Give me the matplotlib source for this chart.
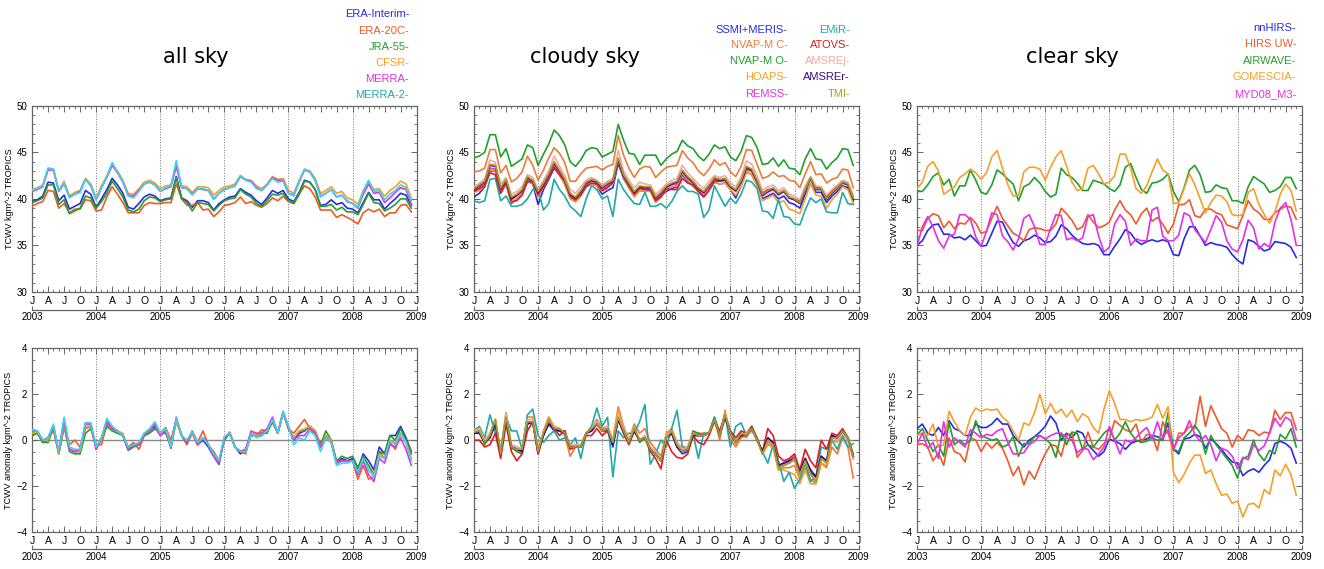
import numpy as np
import matplotlib.pyplot as plt
from matplotlib.ticker import MultipleLocator

months = np.arange(72)
month_labels = ['J', 'A', 'J', 'O'] * 6 + ['J']
year_labels = ['2003', '2004', '2005', '2006', '2007', '2008', '2009']

# ---------------- all sky, TCWV ----------------
era_interim = [39.7, 39.9, 40.3, 41.8, 41.7, 39.8, 40.4, 38.9, 39.2, 39.5, 40.9, 40.5,
               39.1, 40.0, 41.0, 42.2, 41.5, 40.6, 39.1, 38.9, 39.5, 40.2, 40.5, 40.3,
               39.8, 40.0, 40.1, 42.4, 40.1, 39.8, 39.1, 39.8, 39.8, 39.6, 38.8, 39.5,
               39.9, 40.2, 40.3, 41.1, 40.7, 40.4, 39.8, 39.4, 40.1, 40.9, 40.6, 40.9,
               40.0, 39.7, 40.7, 42.0, 41.8, 41.0, 39.3, 39.4, 39.9, 39.4, 39.6, 39.0,
               38.9, 38.5, 39.6, 40.7, 39.9, 39.9, 38.9, 39.5, 40.0, 40.6, 40.4, 39.3]
era_20c = [39.2, 39.5, 39.7, 40.9, 40.8, 39.0, 39.5, 38.5, 38.9, 38.9, 39.9, 39.8,
           38.7, 38.8, 40.2, 41.3, 40.5, 39.6, 38.5, 38.5, 38.5, 39.3, 39.6, 39.5,
           39.5, 39.6, 39.6, 41.6, 40.0, 39.3, 39.3, 39.6, 38.8, 38.9, 38.1, 38.6,
           39.3, 39.4, 39.6, 40.2, 39.5, 39.7, 39.3, 39.1, 39.5, 40.1, 39.8, 40.3,
           39.7, 39.5, 40.5, 41.4, 41.1, 40.2, 38.8, 38.8, 38.8, 38.0, 38.3, 38.0,
           37.7, 37.3, 38.5, 38.9, 38.6, 38.9, 38.1, 38.5, 38.5, 39.3, 39.4, 38.6]
jra_55 = [39.6, 39.8, 40.1, 41.5, 41.5, 39.4, 39.9, 38.4, 38.7, 39.0, 40.3, 40.1,
          39.0, 39.7, 40.6, 41.9, 41.1, 40.2, 38.8, 38.6, 38.9, 39.8, 40.2, 40.1,
          39.7, 39.9, 40.0, 42.3, 40.0, 39.6, 38.7, 39.6, 39.5, 39.4, 38.7, 39.3,
          39.8, 40.0, 40.1, 41.0, 40.5, 40.2, 39.5, 39.2, 39.8, 40.5, 40.4, 40.6,
          39.8, 39.5, 40.5, 41.9, 41.8, 41.0, 39.2, 39.2, 39.4, 38.8, 39.1, 38.6,
          38.6, 38.3, 39.4, 40.6, 39.6, 39.5, 38.7, 39.0, 39.4, 40.0, 40.0, 39.0]
cfsr = [41.0, 41.2, 41.5, 43.3, 43.2, 40.9, 41.9, 40.3, 40.7, 40.9, 42.2, 41.6,
        40.1, 41.4, 42.5, 43.7, 43.0, 42.0, 40.6, 40.5, 41.1, 41.8, 42.0, 41.7,
        41.1, 41.4, 41.5, 43.6, 41.4, 41.3, 40.7, 41.3, 41.3, 41.2, 40.4, 40.9,
        41.3, 41.4, 41.6, 42.5, 42.1, 42.0, 41.4, 41.1, 41.6, 42.4, 42.1, 42.2,
        40.9, 40.6, 42.0, 43.2, 43.0, 42.2, 40.6, 40.9, 41.3, 40.6, 40.8, 40.1,
        39.9, 39.4, 40.9, 41.9, 41.0, 41.1, 40.3, 40.9, 41.3, 41.9, 41.6, 40.1]
merra = [40.8, 41.0, 41.3, 43.1, 43.1, 40.8, 41.6, 40.2, 40.5, 40.8, 42.1, 41.4,
         39.9, 41.2, 42.3, 43.6, 42.8, 41.8, 40.4, 40.3, 40.9, 41.6, 41.8, 41.5,
         40.8, 41.1, 41.3, 43.5, 41.2, 41.1, 40.5, 41.1, 41.0, 40.9, 40.0, 40.6,
         41.0, 41.2, 41.4, 42.4, 42.0, 41.9, 41.2, 40.9, 41.5, 42.3, 42.0, 42.0,
         40.6, 40.4, 41.8, 43.1, 42.9, 42.0, 40.3, 40.6, 41.0, 40.2, 40.4, 39.7,
         39.5, 39.0, 40.5, 41.6, 40.6, 40.7, 39.6, 40.1, 40.7, 41.2, 41.0, 39.4]
merra_2 = [40.9, 41.1, 41.4, 43.3, 43.2, 40.9, 41.7, 40.1, 40.5, 40.7, 42.1, 41.5,
           39.9, 41.2, 42.4, 43.9, 42.8, 41.8, 40.3, 40.1, 40.8, 41.6, 41.8, 41.5,
           40.8, 41.2, 41.4, 44.1, 41.3, 41.1, 40.4, 41.1, 41.1, 40.9, 39.9, 40.6,
           41.1, 41.2, 41.4, 42.5, 42.0, 41.8, 41.1, 40.9, 41.5, 42.2, 41.8, 41.9,
           40.6, 40.3, 41.9, 43.2, 42.9, 42.0, 40.2, 40.6, 41.0, 40.2, 40.4, 39.8,
           39.5, 39.1, 40.8, 42.0, 40.8, 40.9, 39.9, 40.5, 40.9, 41.5, 41.2, 39.8]

# ---------------- all sky, anomaly ----------------
era_interim_a = [0.3, 0.35, 0.0, 0.1, 0.6, -0.5, 0.9, -0.4, -0.5, -0.5, 0.75, 0.7,
                 -0.4, 0.1, 0.8, 0.5, 0.4, 0.2, -0.4, -0.2, -0.2, 0.2, 0.4, 0.6,
                 0.2, 0.4, -0.35, 0.9, 0.2, -0.1, 0.3, -0.2, 0.0, -0.3, -0.7, -1.05,
                 0.1, 0.3, -0.3, -0.6, -0.4, 0.3, 0.2, 0.2, 0.4, 0.8, 0.3, 1.2,
                 0.6, 0.0, 0.3, 0.4, 0.6, 0.4, -0.3, 0.2, 0.0, -1.0, -0.8, -0.9,
                 -0.8, -1.25, -0.6, -0.9, -1.3, -0.3, -0.6, 0.2, 0.2, 0.6, 0.1, -0.5]
era_20c_a = [0.2, 0.3, -0.1, 0.0, 0.5, -0.6, 0.6, -0.2, 0.0, -0.3, 0.5, 0.6,
             -0.2, -0.2, 0.7, 0.5, 0.4, 0.2, -0.3, -0.1, -0.4, 0.2, 0.4, 0.5,
             0.3, 0.55, 0.0, 0.9, 0.2, -0.2, 0.4, -0.1, 0.4, -0.2, -0.5, -0.9,
             0.0, 0.35, -0.3, -0.5, -0.6, 0.3, 0.2, 0.45, 0.4, 0.9, 0.3, 1.2,
             0.5, 0.3, 0.6, 0.9, 0.5, 0.2, -0.1, 0.1, -0.1, -1.0, -0.9, -0.9,
             -0.9, -1.7, -1.1, -1.7, -1.6, -0.5, -0.8, -0.1, -0.4, 0.3, 0.0, -0.5]
jra_55_a = [0.2, 0.3, -0.1, -0.1, 0.5, -0.6, 0.6, -0.5, -0.6, -0.6, 0.3, 0.5,
            -0.3, 0.0, 0.6, 0.4, 0.3, 0.2, -0.45, -0.3, -0.2, 0.2, 0.3, 0.5,
            0.3, 0.3, -0.2, 0.8, 0.2, -0.15, 0.3, -0.2, 0.1, -0.2, -0.6, -0.9,
            0.0, 0.3, -0.3, -0.5, -0.4, 0.2, 0.2, 0.3, 0.3, 0.8, 0.3, 1.2,
            0.5, 0.1, 0.4, 0.4, 0.6, 0.4, -0.2, 0.4, 0.0, -0.9, -0.7, -0.8,
            -0.7, -1.2, -0.7, -1.1, -1.5, -0.5, -0.6, 0.2, 0.0, 0.5, 0.0, -0.6]
cfsr_a = [0.3, 0.35, 0.0, 0.0, 0.6, -0.6, 0.7, -0.4, -0.5, -0.5, 0.6, 0.6,
          -0.3, 0.0, 0.8, 0.6, 0.4, 0.3, -0.3, -0.2, -0.2, 0.3, 0.4, 0.7,
          0.2, 0.5, -0.2, 0.8, 0.2, -0.1, 0.3, -0.2, 0.1, -0.2, -0.6, -0.9,
          0.1, 0.3, -0.3, -0.5, -0.4, 0.3, 0.2, 0.3, 0.4, 0.9, 0.3, 1.2,
          0.6, 0.1, 0.4, 0.5, 0.6, 0.4, -0.3, 0.2, 0.0, -1.0, -0.9, -0.9,
          -0.9, -1.4, -0.8, -1.3, -1.5, -0.6, -0.8, 0.0, -0.1, 0.3, -0.1, -0.8]
merra_a = [0.4, 0.4, 0.0, 0.1, 0.6, -0.5, 0.8, -0.4, -0.5, -0.4, 0.7, 0.7,
           -0.4, 0.1, 0.8, 0.5, 0.4, 0.2, -0.4, -0.2, -0.2, 0.3, 0.4, 0.7,
           0.2, 0.4, -0.3, 1.0, 0.2, -0.1, 0.4, -0.2, 0.1, -0.2, -0.7, -1.0,
           0.1, 0.3, -0.3, -0.5, -0.4, 0.4, 0.3, 0.3, 0.5, 1.0, 0.3, 1.25,
           0.5, 0.0, 0.2, 0.2, 0.5, 0.3, -0.3, 0.1, -0.1, -1.0, -0.9, -0.9,
           -0.9, -1.5, -0.9, -1.5, -1.8, -0.8, -1.0, -0.2, -0.3, 0.1, -0.4, -1.1]
merra_2_a = [0.45, 0.4, 0.0, 0.1, 0.7, -0.5, 1.0, -0.3, -0.4, -0.4, 0.75, 0.75,
             -0.3, 0.1, 0.95, 0.6, 0.4, 0.2, -0.3, -0.2, -0.1, 0.3, 0.5, 0.8,
             0.3, 0.5, -0.3, 0.95, 0.2, 0.0, 0.4, -0.1, 0.1, -0.2, -0.6, -0.9,
             0.15, 0.3, -0.3, -0.5, -0.5, 0.3, 0.1, 0.2, 0.4, 0.9, 0.3, 1.25,
             0.6, -0.2, 0.1, 0.0, 0.4, 0.2, -0.5, 0.1, -0.1, -1.1, -1.0, -1.0,
             -0.9, -1.4, -0.8, -1.3, -1.6, -0.7, -0.8, 0.0, -0.2, 0.3, -0.1, -0.9]

# ---------------- cloudy sky, TCWV ----------------
ssmi_meris = [40.2, 40.6, 41.3, 43.0, 43.0, 40.6, 41.6, 39.5, 40.0, 40.5, 41.9, 41.6,
              39.4, 41.0, 42.1, 43.3, 42.6, 41.6, 40.1, 39.7, 40.4, 41.3, 41.6, 41.4,
              40.5, 40.9, 41.2, 43.8, 42.2, 41.2, 40.3, 40.9, 40.8, 40.9, 39.8, 40.3,
              40.8, 41.1, 41.3, 42.6, 41.9, 41.4, 40.8, 40.3, 41.0, 41.8, 41.6, 41.7,
              41.0, 40.1, 41.4, 42.9, 42.6, 41.5, 40.0, 40.3, 40.6, 40.0, 40.3, 39.6,
              39.4, 39.0, 40.5, 41.6, 40.7, 40.7, 39.6, 40.3, 40.8, 41.4, 41.2, 39.8]
nvapm_c = [42.9, 43.0, 43.3, 45.3, 45.3, 42.8, 43.6, 41.8, 42.2, 42.9, 44.6, 43.6,
           42.0, 43.1, 44.4, 45.5, 44.9, 43.9, 41.9, 41.9, 42.7, 43.3, 43.4, 43.5,
           43.1, 43.5, 43.7, 46.8, 44.7, 43.3, 42.3, 43.2, 43.5, 43.4, 42.3, 42.9,
           43.4, 43.5, 43.6, 45.2, 44.4, 43.9, 43.0, 42.5, 43.2, 44.2, 43.6, 43.9,
           42.9, 42.4, 43.5, 45.3, 45.2, 43.7, 42.2, 42.4, 42.9, 42.4, 42.5, 42.0,
           41.9, 41.2, 42.7, 44.0, 42.6, 42.7, 41.7, 42.1, 42.3, 43.2, 43.1, 41.2]
nvapm_o = [44.4, 44.6, 45.0, 46.9, 46.9, 44.5, 45.4, 43.5, 43.9, 44.3, 45.8, 45.5,
           43.6, 44.8, 45.9, 47.4, 46.8, 45.8, 44.0, 43.5, 44.2, 45.2, 45.5, 45.4,
           44.5, 44.8, 45.1, 48.0, 46.3, 44.9, 44.8, 43.7, 44.7, 44.7, 44.7, 43.6,
           44.3, 44.8, 45.1, 46.3, 45.7, 45.4, 44.6, 44.1, 44.8, 45.8, 45.4, 45.6,
           44.5, 44.1, 45.1, 46.8, 46.6, 45.5, 43.7, 43.8, 44.4, 43.5, 44.2, 43.3,
           43.2, 42.6, 44.3, 45.4, 44.3, 44.2, 43.2, 43.9, 44.4, 45.4, 45.3, 43.6]
hoaps = [40.7, 40.9, 41.4, 43.1, 43.0, 40.6, 41.7, 39.6, 40.0, 40.5, 42.0, 41.6,
         40.2, 41.3, 42.3, 43.5, 42.6, 41.6, 40.0, 39.7, 40.4, 41.4, 41.6, 41.4,
         40.8, 41.3, 41.6, 44.1, 42.3, 41.2, 40.2, 40.9, 40.8, 40.8, 39.6, 40.2,
         41.0, 41.3, 41.4, 42.8, 42.0, 41.5, 40.7, 40.2, 41.0, 41.8, 41.6, 41.7,
         41.0, 40.4, 41.4, 42.9, 42.6, 41.4, 39.8, 40.1, 40.4, 39.6, 39.8, 38.9,
         38.7, 38.4, 40.0, 41.7, 40.4, 40.3, 39.0, 39.9, 40.5, 41.3, 41.0, 39.5]
remss = [40.9, 41.2, 41.6, 43.3, 43.2, 40.9, 41.9, 39.9, 40.3, 40.8, 42.2, 41.8,
         40.4, 41.4, 42.4, 43.7, 42.9, 41.9, 40.4, 40.0, 40.7, 41.6, 41.9, 41.7,
         41.0, 41.4, 41.7, 44.3, 42.4, 41.5, 40.6, 41.2, 41.1, 41.1, 40.0, 40.5,
         41.2, 41.5, 41.6, 42.9, 42.2, 41.7, 41.0, 40.6, 41.3, 42.1, 41.9, 42.0,
         41.3, 40.8, 41.8, 43.2, 43.0, 41.8, 40.3, 40.7, 41.0, 40.4, 40.8, 40.1,
         39.9, 39.6, 40.9, 42.2, 41.0, 41.1, 40.0, 40.7, 41.2, 41.8, 41.6, 40.1]
emir = [39.8, 39.6, 39.8, 42.1, 42.2, 39.8, 40.3, 39.2, 39.2, 39.4, 40.0, 41.0,
        41.0, 38.8, 39.5, 42.1, 41.0, 40.3, 39.2, 38.7, 38.1, 40.0, 41.4, 41.0,
        40.0, 40.3, 38.1, 42.1, 41.0, 40.2, 39.5, 39.4, 40.7, 39.2, 39.2, 39.5,
        39.0, 39.7, 40.8, 41.4, 40.8, 40.8, 40.5, 38.0, 38.8, 41.4, 40.3, 39.2,
        40.1, 39.5, 40.5, 42.0, 41.8, 41.1, 38.7, 38.6, 37.9, 39.9, 38.1, 38.0,
        37.3, 37.2, 38.8, 40.1, 39.6, 40.0, 38.6, 38.5, 38.5, 40.7, 39.5, 39.4]
atovs = [40.8, 41.1, 41.4, 42.8, 42.6, 40.6, 41.8, 39.7, 39.8, 40.4, 41.9, 41.8,
         40.5, 41.3, 42.3, 43.4, 42.6, 41.9, 40.3, 39.9, 40.4, 41.4, 41.7, 41.6,
         40.9, 41.2, 41.8, 44.1, 42.4, 41.4, 40.5, 41.1, 41.0, 41.0, 39.8, 40.2,
         41.1, 41.0, 41.0, 42.2, 41.7, 41.5, 40.8, 40.2, 40.9, 41.9, 41.9, 42.0,
         41.3, 40.9, 41.8, 43.2, 43.0, 41.9, 40.6, 41.0, 41.1, 40.6, 40.9, 40.2,
         40.0, 39.7, 41.0, 42.3, 41.2, 41.2, 40.2, 40.8, 41.3, 41.9, 41.6, 40.1]
amsrej = [41.3, 41.7, 42.1, 44.2, 43.9, 41.6, 42.3, 40.5, 40.8, 41.3, 42.6, 42.3,
          41.0, 42.0, 43.0, 44.6, 43.5, 42.5, 41.0, 40.6, 41.3, 42.0, 42.3, 42.0,
          41.5, 41.9, 42.2, 45.2, 43.0, 42.0, 41.2, 41.8, 41.6, 41.5, 40.5, 41.0,
          41.6, 42.0, 42.2, 43.6, 42.8, 42.2, 41.6, 41.1, 41.9, 42.5, 42.3, 42.5,
          41.7, 41.3, 42.4, 44.1, 43.7, 42.5, 40.9, 41.3, 41.5, 40.9, 41.2, 40.5,
          40.3, 39.9, 41.4, 42.4, 41.4, 41.3, 40.4, 41.0, 41.5, 42.0, 41.8, 40.4]
amsrer = [41.0, 41.4, 41.8, 43.6, 43.5, 41.1, 42.0, 40.0, 40.4, 40.9, 42.3, 41.9,
          40.7, 41.6, 42.6, 43.9, 43.0, 42.0, 40.5, 40.1, 40.8, 41.7, 42.0, 41.8,
          41.2, 41.6, 41.9, 44.2, 42.5, 41.6, 40.7, 41.3, 41.2, 41.2, 40.1, 40.6,
          41.3, 41.6, 41.8, 43.0, 42.3, 41.8, 41.1, 40.7, 41.4, 42.2, 42.0, 42.1,
          41.3, 40.9, 41.9, 43.4, 43.1, 41.9, 40.4, 40.8, 41.1, 40.5, 40.8, 40.1,
          39.9, 39.5, 40.9, 42.2, 41.0, 41.0, 39.9, 40.6, 41.1, 41.7, 41.5, 40.0]
tmi = [41.1, 41.5, 41.9, 43.7, 43.6, 41.2, 42.1, 40.2, 40.5, 41.0, 42.4, 42.0,
       40.8, 41.7, 42.7, 44.0, 43.1, 42.1, 40.6, 40.2, 40.9, 41.8, 42.1, 41.9,
       41.3, 41.7, 42.0, 44.4, 42.6, 41.7, 40.8, 41.4, 41.3, 41.3, 40.2, 40.7,
       41.4, 41.7, 41.9, 43.1, 42.4, 41.9, 41.2, 40.8, 41.5, 42.3, 42.1, 42.2,
       41.4, 41.0, 42.0, 43.5, 43.2, 42.0, 40.5, 40.9, 41.2, 40.6, 40.9, 40.2,
       40.0, 39.6, 41.0, 42.3, 41.1, 41.1, 40.0, 40.7, 41.2, 41.8, 41.6, 40.1]

# ---------------- cloudy sky, anomaly ----------------
ssmi_meris_a = [0.3, 0.35, -0.1, 0.2, 0.7, -0.5, 1.0, -0.3, -0.4, -0.5, 0.8, 0.8,
                -0.6, 0.3, 0.7, 0.4, 0.4, 0.4, -0.3, -0.3, -0.3, 0.3, 0.4, 0.7,
                0.4, 0.4, -0.3, 0.9, 0.3, -0.1, 0.4, 0.0, 0.1, -0.4, -0.6, -0.9,
                0.1, 0.3, -0.3, -0.6, -0.5, 0.2, 0.2, 0.2, 0.3, 0.9, 0.2, 1.0,
                0.3, -0.1, 0.2, 0.2, 0.5, 0.0, -0.5, 0.0, -0.2, -1.1, -1.0, -0.9,
                -0.8, -1.3, -0.8, -1.4, -1.7, -0.8, -0.9, 0.1, 0.1, 0.4, 0.0, -0.7]
nvapm_c_a = [0.5, 0.4, -0.1, 0.3, 0.9, -0.7, 1.2, -0.4, -0.3, -0.5, 1.0, 1.0,
             -0.6, 0.4, 1.0, 0.6, 0.5, 0.2, -0.7, -0.3, -0.3, 0.3, 0.5, 0.9,
             0.5, 0.6, 0.0, 1.45, 0.6, 0.0, 0.7, 0.3, 0.5, -0.1, -0.4, -0.7,
             0.3, 0.5, -0.2, -0.3, -0.3, 0.3, 0.3, 0.3, 0.3, 0.9, 0.0, 1.3,
             0.0, -0.3, 0.1, 0.2, 0.4, 0.1, -0.6, -0.2, -0.3, -1.3, -1.2, -1.2,
             -1.1, -1.7, -1.2, -1.7, -1.9, -1.0, -1.2, -0.3, -0.6, 0.1, -0.3, -1.65]
nvapm_o_a = [0.3, 0.4, -0.2, 0.2, 0.8, -0.6, 1.0, -0.3, -0.5, -0.6, 0.7, 0.8,
             -0.5, 0.3, 0.9, 0.5, 0.4, 0.3, -0.3, -0.2, -0.3, 0.3, 0.5, 0.7,
             0.4, 0.5, -0.1, 1.0, 0.4, -0.1, 0.5, -0.1, 0.1, -0.4, -0.6, -0.9,
             0.1, 0.4, -0.1, -0.4, -0.4, 0.4, 0.3, 0.2, 0.3, 1.0, 0.3, 1.1,
             0.4, -0.1, 0.3, 0.2, 0.6, 0.1, -0.6, 0.1, -0.2, -1.2, -1.1, -1.0,
             -0.8, -1.5, -0.9, -1.4, -1.8, -0.8, -0.9, 0.2, 0.1, 0.4, 0.1, -0.6]
hoaps_a = [0.5, 0.5, 0.0, 0.3, 0.9, -0.5, 1.2, -0.2, -0.3, -0.4, 1.0, 1.0,
           -0.4, 0.3, 1.0, 0.6, 0.5, 0.3, -0.2, -0.2, -0.2, 0.3, 0.5, 0.8,
           0.4, 0.6, 0.0, 1.3, 0.5, 0.0, 0.6, 0.0, 0.2, -0.3, -0.6, -0.8,
           0.2, 0.5, -0.1, -0.4, -0.3, 0.3, 0.2, 0.2, 0.3, 0.9, 0.2, 1.2,
           0.2, -0.2, 0.2, 0.1, 0.5, 0.0, -0.6, -0.1, -0.3, -1.3, -1.3, -1.4,
           -1.5, -1.9, -1.3, -1.9, -1.9, -1.0, -1.1, 0.0, -0.1, 0.3, 0.0, -0.8]
remss_a = [0.3, 0.4, -0.1, 0.2, 0.8, -0.6, 1.0, -0.3, -0.4, -0.5, 0.7, 0.8,
           -0.5, 0.3, 0.8, 0.5, 0.4, 0.3, -0.3, -0.3, -0.3, 0.3, 0.4, 0.7,
           0.4, 0.5, -0.1, 1.0, 0.4, -0.1, 0.5, 0.0, 0.1, -0.4, -0.6, -0.9,
           0.1, 0.4, -0.2, -0.5, -0.4, 0.3, 0.2, 0.2, 0.3, 0.9, 0.2, 1.1,
           0.3, -0.1, 0.3, 0.2, 0.5, 0.0, -0.5, 0.1, -0.1, -1.1, -1.0, -0.9,
           -0.7, -1.4, -0.8, -1.3, -1.6, -0.7, -0.9, 0.2, 0.1, 0.4, 0.1, -0.7]
emir_a = [0.4, 0.6, 0.1, 1.1, 0.3, -0.4, 1.0, 0.4, 0.4, -0.4, 1.1, 1.35,
          0.2, -0.1, 0.2, 0.4, 0.0, 0.1, -0.2, 0.1, -0.8, 0.3, 0.6, 1.4,
          0.6, 1.0, -1.6, 0.4, 0.1, 0.3, 0.3, 0.8, 1.55, -1.05, -0.6, 0.0,
          -0.3, 0.5, 1.3, -0.3, -0.4, 0.3, -0.8, 0.3, 0.3, 1.0, 0.3, 1.1,
          -0.3, 0.6, 0.75, 0.2, 0.5, 0.0, -0.5, -1.0, -0.2, -0.9, -1.8, -1.4,
          -2.1, -1.7, -1.0, -1.8, -1.6, -0.3, -0.4, 0.0, -0.4, 0.2, -0.3, -0.15]
atovs_a = [0.0, 0.0, -0.3, -0.2, 0.3, -0.8, 0.7, -0.5, -0.9, -0.6, 0.4, 0.8,
           -0.6, 0.2, 0.9, 0.5, 0.2, 0.4, -0.4, -0.3, -0.3, 0.2, 0.2, 0.5,
           0.2, 0.4, 0.0, 0.9, 0.3, -0.2, 0.4, 0.0, 0.1, -0.5, -0.8, -1.25,
           0.0, -0.5, -0.75, -0.8, -0.6, 0.2, -0.1, -0.2, 0.2, 0.8, 0.4, 1.1,
           0.4, 0.1, 0.4, 0.3, 0.6, 0.0, -0.5, 0.5, 0.2, -0.7, -0.9, -0.8,
           -0.6, -1.3, -0.4, -0.9, -1.2, 0.0, -0.4, 0.3, 0.2, 0.5, 0.1, -0.8]
amsrej_a = [0.4, 0.5, 0.0, 0.3, 0.8, -0.5, 1.1, -0.2, -0.3, -0.4, 0.9, 0.9,
            -0.4, 0.3, 0.9, 0.6, 0.4, 0.3, -0.2, -0.2, -0.2, 0.3, 0.5, 0.8,
            0.4, 0.6, 0.0, 1.1, 0.5, 0.0, 0.5, 0.0, 0.2, -0.3, -0.5, -0.8,
            0.2, 0.4, -0.1, -0.4, -0.3, 0.3, 0.2, 0.2, 0.3, 0.9, 0.2, 1.1,
            0.3, -0.1, 0.2, 0.3, 0.5, 0.0, -0.6, 0.0, -0.2, -1.1, -1.1, -1.0,
            -0.9, -1.5, -0.9, -1.5, -1.7, -0.8, -1.0, 0.1, 0.0, 0.3, 0.0, -0.8]
amsrer_a = [0.3, 0.3, -0.1, 0.1, 0.7, -0.6, 0.9, -0.3, -0.4, -0.5, 0.7, 0.8,
            -0.5, 0.2, 0.7, 0.5, 0.4, 0.3, -0.3, -0.3, -0.3, 0.3, 0.4, 0.7,
            0.4, 0.5, -0.2, 0.9, 0.4, -0.1, 0.4, 0.0, 0.1, -0.4, -0.6, -0.9,
            0.1, 0.3, -0.3, -0.5, -0.4, 0.2, 0.2, 0.2, 0.3, 0.9, 0.2, 1.0,
            0.3, -0.1, 0.2, 0.2, 0.5, 0.0, -0.5, 0.1, -0.1, -1.1, -1.0, -0.9,
            -0.8, -1.4, -0.8, -1.3, -1.6, -0.7, -0.9, 0.2, 0.1, 0.4, 0.1, -0.7]
tmi_a = [0.35, 0.4, -0.1, 0.2, 0.9, -0.6, 1.0, -0.3, -0.4, -0.4, 0.8, 0.8,
         -0.5, 0.3, 0.9, 0.5, 0.5, 0.3, -0.3, -0.3, -0.3, 0.3, 0.5, 0.7,
         0.4, 0.5, -0.1, 1.0, 0.4, -0.1, 0.5, 0.0, 0.1, -0.4, -0.6, -0.9,
         0.1, 0.4, -0.2, -0.5, -0.4, 0.3, 0.2, 0.2, 0.3, 0.9, 0.2, 1.1,
         0.3, -0.1, 0.3, 0.2, 0.5, 0.0, -0.6, 0.0, -0.2, -1.2, -1.1, -1.0,
         -0.8, -1.5, -0.9, -1.5, -1.8, -0.8, -1.0, 0.1, 0.1, 0.4, 0.1, -0.7]

# ---------------- clear sky, TCWV ----------------
nnhirs = [35.0, 35.5, 36.6, 37.2, 37.3, 36.2, 36.2, 35.8, 35.9, 35.6, 36.1, 35.5,
          34.9, 35.0, 36.3, 37.6, 37.5, 36.3, 35.3, 34.9, 35.5, 35.7, 36.1, 35.8,
          35.3, 35.4, 36.0, 37.2, 36.8, 36.1, 35.6, 35.2, 35.1, 35.2, 35.0, 34.0,
          34.0, 34.9, 35.7, 36.7, 36.3, 35.5, 35.1, 35.4, 35.6, 35.4, 35.6, 35.4,
          34.0, 33.9, 35.7, 37.0, 37.0, 36.0, 35.0, 35.3, 35.1, 35.0, 34.8, 34.0,
          33.4, 33.0, 35.6, 35.4, 34.9, 34.4, 34.6, 35.4, 35.3, 35.2, 34.8, 33.7]
hirs_uw = [36.6, 36.6, 37.9, 38.4, 38.2, 36.9, 37.6, 36.8, 37.4, 37.3, 38.0, 37.4,
           36.3, 36.5, 37.9, 39.2, 37.9, 37.1, 36.3, 36.0, 35.5, 36.7, 36.9, 36.8,
           36.6, 36.6, 37.3, 39.0, 38.4, 37.7, 36.7, 37.0, 38.3, 37.5, 36.9, 37.1,
           37.5, 38.8, 39.8, 38.8, 38.3, 37.3, 38.4, 39.0, 37.6, 38.0, 37.3, 36.3,
           37.3, 39.4, 39.4, 39.9, 38.2, 38.0, 38.9, 38.9, 38.5, 38.3, 37.2, 37.0,
           36.8, 38.2, 39.8, 38.9, 38.5, 37.8, 37.8, 38.5, 38.9, 39.2, 39.1, 37.8]
airwave = [40.8, 40.8, 41.5, 42.4, 42.8, 41.5, 42.1, 40.3, 41.4, 41.4, 43.1, 42.0,
           40.7, 40.5, 41.5, 43.1, 42.7, 42.1, 41.6, 39.8, 41.3, 41.6, 42.3, 41.7,
           40.8, 40.2, 40.5, 43.3, 42.6, 42.3, 41.7, 40.9, 40.9, 42.0, 41.8, 41.6,
           41.1, 40.8, 41.5, 43.4, 43.8, 42.3, 41.0, 40.6, 41.7, 41.8, 42.1, 42.7,
           40.8, 39.7, 41.2, 43.1, 43.6, 42.6, 40.7, 40.8, 41.5, 41.2, 41.1, 39.8,
           39.8, 39.5, 41.3, 42.4, 42.0, 41.6, 40.7, 40.9, 41.3, 42.3, 42.3, 41.1]
gomescia = [41.1, 41.8, 43.5, 44.0, 43.0, 40.5, 40.9, 41.3, 42.3, 42.7, 43.2, 42.8,
            42.1, 42.8, 44.5, 45.2, 43.3, 41.5, 40.3, 40.4, 42.9, 43.4, 43.4, 43.2,
            42.0, 43.4, 44.5, 45.2, 43.5, 41.8, 40.9, 41.1, 43.3, 43.6, 42.7, 41.6,
            41.8, 42.5, 44.8, 44.8, 43.3, 41.1, 40.6, 41.4, 42.9, 44.3, 43.1, 42.7,
            39.5, 39.6, 41.1, 42.7, 41.5, 40.0, 38.5, 39.6, 40.4, 40.3, 39.7, 38.3,
            38.2, 38.3, 40.7, 41.1, 39.4, 38.3, 37.4, 38.6, 40.5, 41.6, 40.9, 38.7]
myd08_m3 = [34.9, 37.0, 38.1, 37.0, 35.5, 34.7, 36.0, 36.2, 38.3, 38.3, 37.8, 35.9,
            34.9, 36.5, 38.5, 38.3, 36.0, 35.4, 34.5, 35.7, 37.9, 38.3, 37.0, 35.1,
            35.1, 36.8, 38.3, 38.2, 35.6, 35.8, 35.5, 35.8, 38.1, 38.3, 36.0, 34.3,
            34.8, 37.3, 38.3, 37.6, 35.0, 35.7, 35.5, 35.5, 38.8, 39.1, 36.0, 35.5,
            35.5, 36.1, 38.5, 38.2, 36.7, 36.0, 35.3, 36.7, 38.2, 37.5, 35.5, 34.6,
            34.3, 35.6, 37.7, 36.9, 34.6, 35.2, 34.8, 37.5, 39.0, 39.6, 37.8, 35.0]

# ---------------- clear sky, anomaly ----------------
nnhirs_a = [0.5, 0.7, 0.3, 0.2, 0.55, 0.2, 0.85, 0.5, 0.4, 0.2, 0.2, 0.7,
            0.55, 0.55, 0.7, 0.95, 0.7, 0.7, 0.2, -0.05, -0.3, 0.0, 0.15, 0.35,
            0.6, 1.05, 0.75, 0.0, 0.3, 0.1, 0.4, 0.3, -0.2, -0.45, -0.7, -0.5,
            0.05, -0.05, -0.15, -0.4, -0.15, -0.05, 0.0, 0.05, 0.2, 0.15, 0.0, 0.75,
            -0.4, -0.6, 0.05, 0.1, 0.25, 0.15, -0.35, 0.05, -0.15, -0.4, -0.7, -0.95,
            -1.0, -1.55, -1.35, -1.25, -1.4, -1.1, -0.85, -0.15, -0.05, -0.15, -0.35, -1.0]
hirs_uw_a = [-0.2, -0.15, -0.3, -0.9, -0.55, -1.1, 0.1, -0.5, -0.6, -0.95, 0.1, 0.0,
             -0.5, -0.1, -0.35, -0.1, -0.35, -0.9, -1.55, -1.15, -1.95, -1.35, -1.7, -1.1,
             -0.6, -0.2, -0.25, -0.7, 0.2, 0.3, -0.75, -0.45, 0.35, -0.3, -0.4, -0.15,
             0.05, 0.85, 0.65, 0.45, 0.35, 0.7, -0.1, 0.25, 0.2, -0.45, 0.8, 0.3,
             -0.45, 0.3, 0.3, 0.6, 0.5, 1.9, 0.6, 1.5, 1.0, 0.5, 0.3, -0.3,
             0.2, 0.0, 0.45, 0.4, 0.2, 0.35, 0.3, 1.3, 0.9, 1.2, 1.2, 0.45]
airwave_a = [0.2, 0.5, 0.0, -0.5, -0.2, -0.7, 0.75, -0.2, 0.0, -0.2, 0.0, 0.85,
             0.2, 0.1, 0.0, 0.05, -0.3, -0.2, 0.15, -0.7, -0.15, -0.15, 0.15, 0.2,
             0.05, -0.15, -0.75, 0.3, -0.2, 0.35, 0.3, -0.4, -0.2, -0.3, 0.0, 0.3,
             0.5, 0.0, 0.3, 0.8, 0.3, 0.0, -0.1, -0.05, 0.1, 0.0, 0.0, 1.2,
             -0.4, -0.5, 0.1, 0.3, 0.65, 0.3, -0.6, 0.2, -0.2, -0.5, -0.8, -1.1,
             -1.65, -0.8, -0.7, 0.0, -0.6, -0.9, -0.45, -0.6, 0.25, 0.05, 0.5, -0.3]
gomescia_a = [0.2, 0.3, 0.2, 0.7, -0.3, -0.2, 1.25, 0.8, 0.4, 0.2, 1.0, 1.4,
              1.25, 1.35, 1.3, 1.35, 1.0, 0.8, 0.4, 0.0, 0.75, 0.65, 1.2, 2.0,
              1.15, 1.6, 1.15, 1.35, 1.0, 1.3, 0.8, 1.15, 1.0, 0.55, 0.3, 1.35,
              2.15, 1.6, 0.9, 0.9, 0.8, 0.9, 0.85, 0.9, 1.0, 1.55, 0.95, 1.45,
              -1.4, -1.85, -1.5, -1.0, -0.65, -0.65, -1.45, -1.3, -1.9, -2.4, -2.35, -2.75,
              -2.65, -3.35, -2.8, -2.75, -2.95, -2.15, -2.35, -1.3, -1.55, -1.05, -1.5, -2.4]
myd08_m3_a = [-0.2, 0.3, -0.35, -0.1, -0.8, 0.8, -0.3, 0.1, -0.1, -0.3, 0.45, 0.3,
              0.1, 0.25, 0.2, 0.4, 0.5, -0.1, -0.6, -0.6, -0.55, -0.2, -0.05, 0.2,
              0.05, 0.2, 0.3, 0.3, 0.1, 0.0, -0.55, -0.35, -0.4, -0.85, -0.6, -0.3,
              0.6, 0.0, -0.6, 0.0, -0.1, 0.1, 0.35, 0.55, 0.05, 0.8, 0.1, 0.45,
              -0.4, 0.1, 0.3, 0.85, 0.25, -0.05, 0.2, -0.2, -0.9, -0.35, -0.45, -0.7,
              -1.25, -0.75, -0.85, -0.2, -0.45, -0.25, 0.3, 0.95, 0.6, 1.0, 0.85, 0.0]

# colours
c_blue = '#2a2ae6'
c_red_orange = '#ee5a2c'
c_green = '#22a02a'
c_orange = '#f5a02a'
c_magenta = '#e630e6'
c_cyan = '#30d8ec'
c_teal = '#22a8a8'
c_red = '#e01e1e'
c_pink = '#f4a8a8'
c_indigo = '#3c0a8c'
c_olive = '#a0a020'
c_orange2 = '#f07a3a'

all_sky = [
    ('ERA-Interim', era_interim, era_interim_a, c_blue),
    ('ERA-20C', era_20c, era_20c_a, c_red_orange),
    ('JRA-55', jra_55, jra_55_a, c_green),
    ('CFSR', cfsr, cfsr_a, c_orange),
    ('MERRA', merra, merra_a, c_magenta),
    ('MERRA-2', merra_2, merra_2_a, c_cyan),
]
cloudy_sky = [
    ('SSMI+MERIS', ssmi_meris, ssmi_meris_a, c_blue),
    ('NVAP-M C', nvapm_c, nvapm_c_a, c_orange2),
    ('NVAP-M O', nvapm_o, nvapm_o_a, c_green),
    ('HOAPS', hoaps, hoaps_a, c_orange),
    ('REMSS', remss, remss_a, c_magenta),
    ('EMiR', emir, emir_a, c_teal),
    ('ATOVS', atovs, atovs_a, c_red),
    ('AMSREj', amsrej, amsrej_a, c_pink),
    ('AMSREr', amsrer, amsrer_a, c_indigo),
    ('TMI', tmi, tmi_a, c_olive),
]
clear_sky = [
    ('nnHIRS', nnhirs, nnhirs_a, c_blue),
    ('HIRS UW', hirs_uw, hirs_uw_a, c_red_orange),
    ('AIRWAVE', airwave, airwave_a, c_green),
    ('GOMESCIA', gomescia, gomescia_a, c_orange),
    ('MYD08_M3', myd08_m3, myd08_m3_a, c_magenta),
]

tick_font = ['Liberation Sans', 'DejaVu Sans']
spine_col = '#666666'


def style_axes(ax, anomaly):
    ax.set_xlim(0, 72)
    ax.set_xticks(np.arange(0, 73, 3))
    ax.set_xticklabels(month_labels)
    ax.xaxis.set_minor_locator(MultipleLocator(1))
    if anomaly:
        ax.set_ylim(-4, 4)
        ax.set_yticks([-4, -2, 0, 2, 4])
        ax.yaxis.set_minor_locator(MultipleLocator(0.5))
        ax.set_ylabel('TCWV anomaly kgm^-2 TROPICS', fontsize=6.5, labelpad=2,
                      family=tick_font)
        ax.axhline(0, color='#888888', lw=1.0, zorder=1)
    else:
        ax.set_ylim(30, 50)
        ax.set_yticks([30, 35, 40, 45, 50])
        ax.yaxis.set_minor_locator(MultipleLocator(1))
        ax.set_ylabel('TCWV kgm^-2 TROPICS', fontsize=6.5, labelpad=2,
                      family=tick_font)
    for yr in range(12, 72, 12):
        ax.axvline(yr, color='#777777', lw=0.7, ls=':', zorder=1)
    ax.tick_params(which='both', direction='in', top=True, right=True,
                   colors=spine_col, labelcolor='black', labelsize=7)
    ax.tick_params(which='major', length=4, width=0.7)
    ax.tick_params(which='minor', length=2, width=0.6)
    ax.tick_params(axis='x', which='major', pad=3, labelsize=7.5)
    for lab in ax.get_xticklabels() + ax.get_yticklabels():
        lab.set_family(tick_font)
    for sp in ax.spines.values():
        sp.set_color(spine_col)
        sp.set_linewidth(0.9)

    sec = ax.secondary_xaxis(-0.095)
    sec.set_xticks(np.arange(0, 73, 12))
    sec.set_xticklabels(year_labels)
    sec.tick_params(direction='in', length=3, colors=spine_col,
                    labelcolor='black', labelsize=7, pad=2)
    for lab in sec.get_xticklabels():
        lab.set_family(tick_font)
    sec.spines['bottom'].set_color(spine_col)
    sec.spines['bottom'].set_linewidth(0.9)


fig = plt.figure(figsize=(13.24, 5.69), dpi=100)

lefts = [0.0242, 0.358, 0.6926]
width = 0.2905
rows = [(0.487, 0.327), (0.065, 0.323)]
groups = [all_sky, cloudy_sky, clear_sky]

for col, group in enumerate(groups):
    for row, (bottom, height) in enumerate(rows):
        ax = fig.add_axes([lefts[col], bottom, width, height])
        for name, top_vals, anom_vals, color in group:
            vals = anom_vals if row == 1 else top_vals
            ax.plot(months, vals, color=color, lw=1.2, zorder=3)
        style_axes(ax, anomaly=(row == 1))

# titles
fig.text(0.148, 0.9, 'all sky', fontsize=15, ha='center', va='center')
fig.text(0.442, 0.9, 'cloudy sky', fontsize=15, ha='center', va='center')
fig.text(0.81, 0.9, 'clear sky', fontsize=15, ha='center', va='center')

legend_font = ['Liberation Sans Narrow', 'Liberation Sans', 'DejaVu Sans']

# all sky legend
ys1 = [14, 31, 47, 63, 79, 95]
label_cols = {'MERRA-2': c_teal}
for (name, _, _, color), y in zip(all_sky, ys1):
    fig.text(0.309, 1 - y / 569, name + '-', color=label_cols.get(name, color),
             fontsize=8, ha='right', va='center', family=legend_font)

# cloudy sky legend, two columns
ys2 = [30, 45, 61, 77, 94]
for i, (name, _, _, color) in enumerate(cloudy_sky):
    x = 0.595 if i < 5 else 0.642
    fig.text(x, 1 - ys2[i % 5] / 569, name + '-', color=color,
             fontsize=8, ha='right', va='center', family=legend_font)

# clear sky legend
ys3 = [28, 44, 61, 77, 94]
for (name, _, _, color), y in zip(clear_sky, ys3):
    fig.text(0.979, 1 - y / 569, name + '-', color=color,
             fontsize=8, ha='right', va='center', family=legend_font)

fig.savefig('out.png', dpi=100)
